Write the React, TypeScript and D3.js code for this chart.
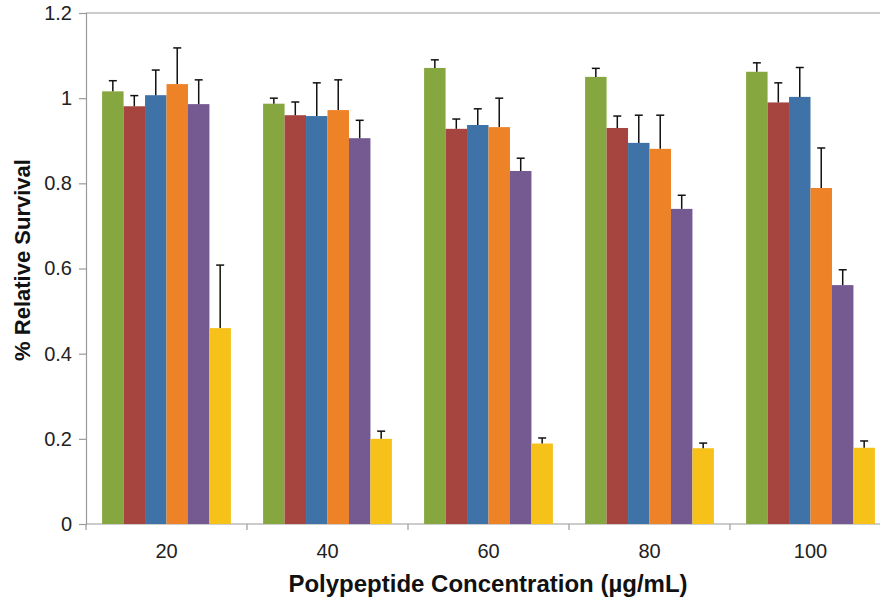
import { useEffect, useRef } from 'react'
import * as d3 from 'd3'

const concentrations = ['20', '40', '60', '80', '100']
const seriesColors = ['#86a73f', '#a64540', '#3f73a8', '#ee8227', '#745a91', '#f6c21a']

// mean values per series, one entry per concentration
const green = [1.016, 0.987, 1.071, 1.05, 1.062]
const red = [0.981, 0.96, 0.928, 0.93, 0.99]
const blue = [1.007, 0.958, 0.937, 0.895, 1.003]
const orange = [1.033, 0.972, 0.932, 0.881, 0.789]
const purple = [0.986, 0.906, 0.829, 0.74, 0.561]
const yellow = [0.46, 0.2, 0.189, 0.178, 0.179]

// top of each error bar
const greenErr = [1.041, 1.0, 1.09, 1.07, 1.083]
const redErr = [1.006, 0.991, 0.951, 0.958, 1.036]
const blueErr = [1.066, 1.036, 0.975, 0.96, 1.072]
const orangeErr = [1.118, 1.043, 1.0, 0.96, 0.883]
const purpleErr = [1.043, 0.948, 0.859, 0.772, 0.597]
const yellowErr = [0.608, 0.218, 0.202, 0.19, 0.195]

const yTicks = [0, 0.2, 0.4, 0.6, 0.8, 1, 1.2]

const series = [green, red, blue, orange, purple, yellow]
const errors = [greenErr, redErr, blueErr, orangeErr, purpleErr, yellowErr]

export default function App() {
  const ref = useRef<SVGSVGElement | null>(null)

  useEffect(() => {
    if (!ref.current) return
    const width = 880
    const height = 606
    const margin = { top: 13, left: 86, bottom: 82 }
    const plotRight = 891

    const svg = d3.select(ref.current)
    svg.selectAll('*').remove()

    const x = d3.scaleBand().domain(concentrations).range([margin.left, plotRight]).paddingInner(0.2).paddingOuter(0.1)
    const inner = d3
      .scaleBand()
      .domain(series.map((_, i) => String(i)))
      .range([0, x.bandwidth()])
    const y = d3.scaleLinear().domain([0, 1.2]).range([height - margin.bottom, margin.top])

    const font = 'Liberation Sans, Arial, sans-serif'

    // frame lines
    svg
      .append('line')
      .attr('x1', margin.left)
      .attr('x2', width)
      .attr('y1', y(1.2))
      .attr('y2', y(1.2))
      .attr('stroke', '#9a9a9a')
      .attr('stroke-width', 1.2)

    const yAxis = svg
      .append('g')
      .attr('transform', `translate(${margin.left},0)`)
      .call(d3.axisLeft(y).tickValues(yTicks).tickSize(7).tickPadding(7).tickFormat((d) => d3.format('')(+d)))
    yAxis.select('.domain').attr('stroke', '#9a9a9a').attr('stroke-width', 1.2)
    yAxis.selectAll('.tick line').attr('stroke', '#9a9a9a').attr('stroke-width', 1.2)
    yAxis.selectAll('text').style('font-family', font).style('font-size', '20px').style('fill', '#222')

    // x axis with ticks between categories
    const step = x.step()
    const boundaries = d3.range(concentrations.length + 1).map((i) => margin.left + i * step)
    svg
      .append('line')
      .attr('x1', margin.left)
      .attr('x2', width)
      .attr('y1', y(0))
      .attr('y2', y(0))
      .attr('stroke', '#9a9a9a')
      .attr('stroke-width', 1.2)
    svg
      .append('g')
      .selectAll('line')
      .data(boundaries)
      .join('line')
      .attr('x1', (d) => d)
      .attr('x2', (d) => d)
      .attr('y1', y(0))
      .attr('y2', y(0) + 6)
      .attr('stroke', '#9a9a9a')
      .attr('stroke-width', 1.2)

    svg
      .append('g')
      .selectAll('text')
      .data(concentrations)
      .join('text')
      .attr('x', (d) => (x(d) || 0) + x.bandwidth() / 2)
      .attr('y', y(0) + 34)
      .attr('text-anchor', 'middle')
      .style('font-family', font)
      .style('font-size', '20px')
      .style('fill', '#222')
      .text((d) => d)

    // bars
    series.forEach((vals, si) => {
      const g = svg.append('g')
      g.selectAll('rect')
        .data(vals)
        .join('rect')
        .attr('x', (_, i) => (x(concentrations[i]) || 0) + (inner(String(si)) || 0))
        .attr('y', (d) => y(d))
        .attr('width', inner.bandwidth())
        .attr('height', (d) => y(0) - y(d))
        .attr('fill', seriesColors[si])

      const cx = (i: number) => (x(concentrations[i]) || 0) + (inner(String(si)) || 0) + inner.bandwidth() / 2
      g.selectAll('line.err')
        .data(errors[si])
        .join('line')
        .attr('class', 'err')
        .attr('x1', (_, i) => cx(i))
        .attr('x2', (_, i) => cx(i))
        .attr('y1', (_, i) => y(vals[i]))
        .attr('y2', (d) => y(d))
        .attr('stroke', '#111')
        .attr('stroke-width', 1.5)
      g.selectAll('line.cap')
        .data(errors[si])
        .join('line')
        .attr('class', 'cap')
        .attr('x1', (_, i) => cx(i) - 4)
        .attr('x2', (_, i) => cx(i) + 4)
        .attr('y1', (d) => y(d))
        .attr('y2', (d) => y(d))
        .attr('stroke', '#111')
        .attr('stroke-width', 1.5)
    })

    svg
      .append('text')
      .attr('transform', `translate(30,260) rotate(-90)`)
      .attr('text-anchor', 'middle')
      .style('font-family', font)
      .style('font-size', '22px')
      .style('font-weight', 'bold')
      .style('fill', '#111')
      .text('% Relative Survival')

    svg
      .append('text')
      .attr('x', 488)
      .attr('y', 592)
      .attr('text-anchor', 'middle')
      .style('font-family', font)
      .style('font-size', '24px')
      .style('font-weight', 'bold')
      .style('fill', '#111')
      .text('Polypeptide Concentration (µg/mL)')
  }, [])

  return (
    <div style={{ position: 'fixed', left: 0, top: 0, background: '#fff' }}>
      <svg ref={ref} width={880} height={606} style={{ display: 'block' }} />
    </div>
  )
}
